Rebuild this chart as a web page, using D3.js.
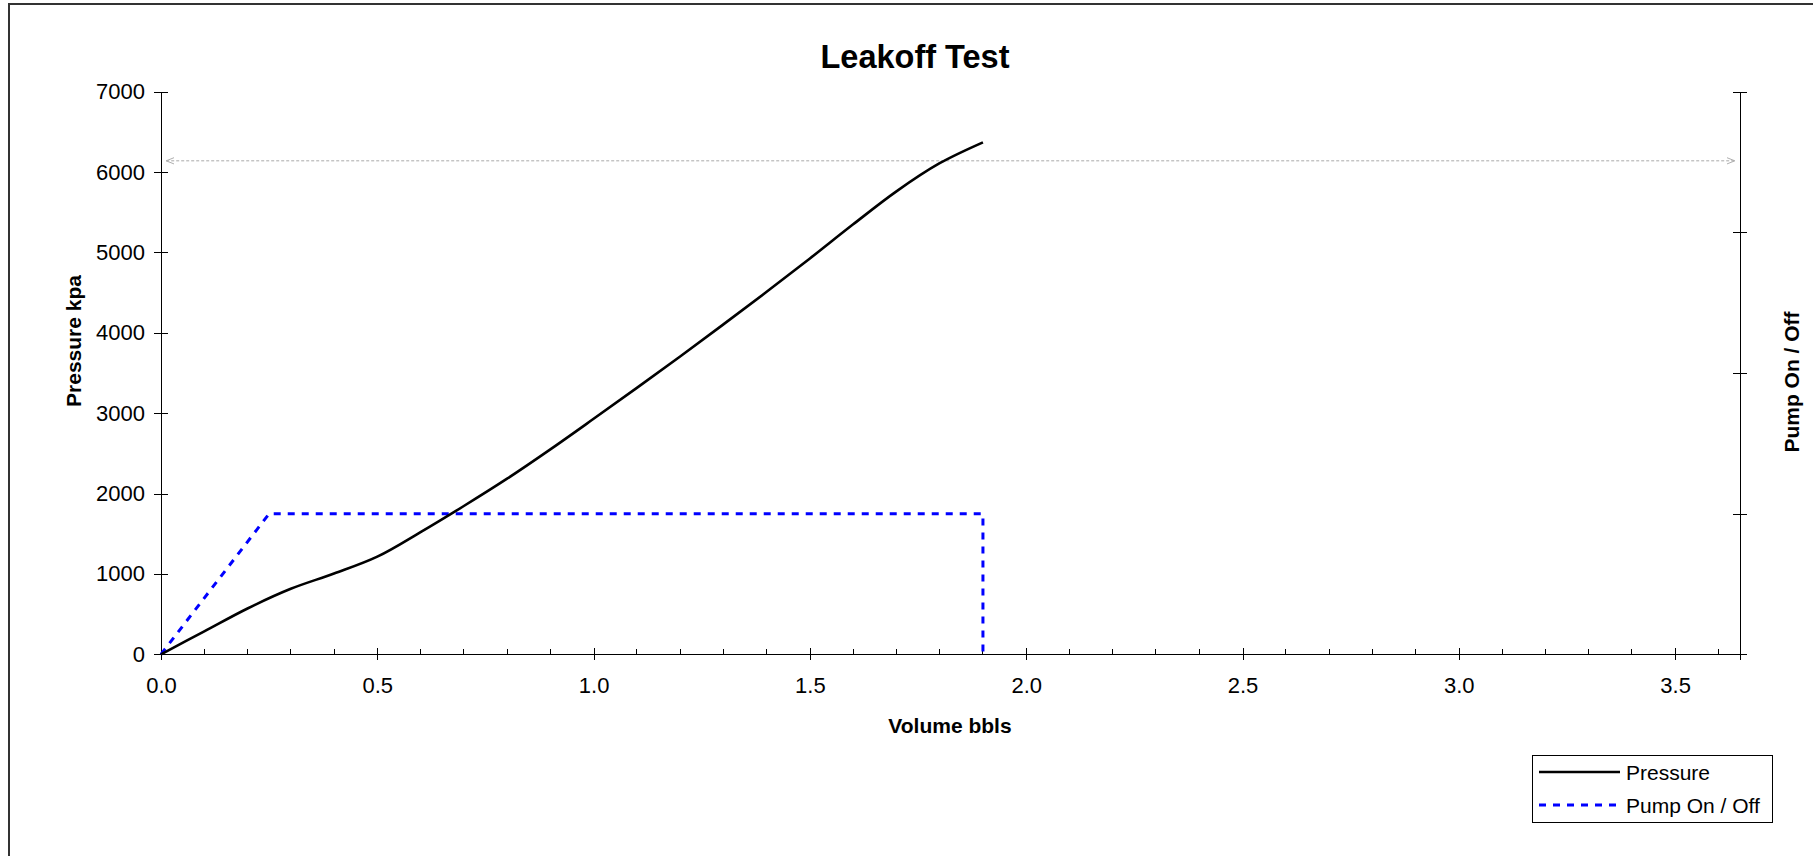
<!DOCTYPE html>
<html>
<head>
<meta charset="utf-8">
<script src="https://cdn.jsdelivr.net/npm/d3@7"></script>
<style>
  html, body { margin: 0; padding: 0; background: #fff; }
  svg { display: block; font-family: "Liberation Sans", Arial, sans-serif; }
</style>
</head>
<body>
<svg id="chart" width="1813" height="856"></svg>
<script>
// Leakoff test: pumped volume vs. surface pressure, with pump status on a secondary axis
const volume   = [0, 0.1, 0.2, 0.3, 0.4, 0.5, 0.6, 0.7, 0.8, 0.9, 1.0, 1.1, 1.2, 1.3, 1.4, 1.5, 1.6, 1.7, 1.8, 1.9];
const pressure = [0, 285, 570, 815, 1005, 1215, 1520, 1845, 2185, 2550, 2930, 3315, 3705, 4105, 4510, 4925, 5350, 5760, 6110, 6370];

const pumpVolume = [0, 0.25, 1.9, 1.9];
const pumpState  = [0, 1, 1, 0];

const leakoffPressure = 6140;

const xTicks      = [0, 0.5, 1.0, 1.5, 2.0, 2.5, 3.0, 3.5];
const xMinorTicks = d3.range(0, 37).map(i => i / 10);
const yTicks      = [0, 1000, 2000, 3000, 4000, 5000, 6000, 7000];
const y2Ticks     = [0, 1, 2, 3, 4];

const seriesNames = ["Pressure", "Pump On / Off"];

const svg = d3.select("#chart");

const x  = d3.scaleLinear().domain([0, 3.65]).range([161, 1740]);
const y  = d3.scaleLinear().domain([0, 7000]).range([654.3, 91.7]);
const y2 = d3.scaleLinear().domain([0, 4]).range([654.3, 91.7]);

// frame around the chart area
svg.append("path")
  .attr("d", "M9,860 L9,4 L1820,4")
  .attr("fill", "none").attr("stroke", "#333").attr("stroke-width", 2);

// title
svg.append("text")
  .attr("x", 915).attr("y", 68)
  .attr("text-anchor", "middle")
  .attr("font-size", 32.5).attr("font-weight", "bold")
  .text("Leakoff Test");

// arrow markers for the leakoff reference line
const defs = svg.append("defs");
defs.append("marker").attr("id", "arrowEnd")
  .attr("viewBox", "0 0 10 10").attr("refX", 10).attr("refY", 5)
  .attr("markerWidth", 8).attr("markerHeight", 8).attr("markerUnits", "userSpaceOnUse")
  .attr("orient", "auto")
  .append("path").attr("d", "M0,1 L10,5 L0,9").attr("fill", "none").attr("stroke", "#aaa").attr("stroke-width", 1.2);
defs.append("marker").attr("id", "arrowStart")
  .attr("viewBox", "0 0 10 10").attr("refX", 0).attr("refY", 5)
  .attr("markerWidth", 8).attr("markerHeight", 8).attr("markerUnits", "userSpaceOnUse")
  .attr("orient", "auto")
  .append("path").attr("d", "M10,1 L0,5 L10,9").attr("fill", "none").attr("stroke", "#aaa").attr("stroke-width", 1.2);

// X axis
const xAxis = svg.append("g")
  .attr("transform", `translate(0,${y(0)})`)
  .call(d3.axisBottom(x).tickValues(xTicks).tickFormat(d3.format(".1f")).tickSizeOuter(0).tickSize(6).tickPadding(17));
xAxis.select(".domain").attr("stroke", "#000").attr("shape-rendering", "crispEdges");
xAxis.selectAll(".tick line").attr("y1", -6).attr("stroke", "#000").attr("shape-rendering", "crispEdges");
xAxis.selectAll(".tick text").attr("font-size", 22).attr("fill", "#000")
  .attr("font-family", "Liberation Sans, Arial, sans-serif");

svg.append("g").selectAll("line")
  .data(xMinorTicks.filter(v => Math.abs(v * 2 - Math.round(v * 2)) > 1e-6))
  .join("line")
  .attr("x1", d => x(d)).attr("x2", d => x(d))
  .attr("y1", y(0) - 5).attr("y2", y(0))
  .attr("stroke", "#000").attr("shape-rendering", "crispEdges");

// left Y axis
const yAxis = svg.append("g")
  .attr("transform", `translate(${x(0)},0)`)
  .call(d3.axisLeft(y).tickValues(yTicks).tickFormat(d3.format("d")).tickSizeOuter(0).tickSize(7).tickPadding(9));
yAxis.select(".domain").attr("stroke", "#000").attr("shape-rendering", "crispEdges");
yAxis.selectAll(".tick line").attr("x1", 7).attr("stroke", "#000").attr("shape-rendering", "crispEdges");
yAxis.selectAll(".tick text").attr("font-size", 22).attr("fill", "#000")
  .attr("font-family", "Liberation Sans, Arial, sans-serif");

// right Y axis (pump status, unlabelled ticks)
const y2Axis = svg.append("g")
  .attr("transform", `translate(${x(3.65)},0)`)
  .call(d3.axisRight(y2).tickValues(y2Ticks).tickFormat("").tickSizeOuter(0).tickSize(7));
y2Axis.select(".domain").attr("stroke", "#000").attr("shape-rendering", "crispEdges");
y2Axis.selectAll(".tick line").attr("x1", -7).attr("stroke", "#000").attr("shape-rendering", "crispEdges");

// axis titles
svg.append("text")
  .attr("x", 950).attr("y", 733)
  .attr("text-anchor", "middle").attr("font-size", 21).attr("font-weight", "bold")
  .text("Volume bbls");
svg.append("text")
  .attr("transform", "translate(81,341) rotate(-90)")
  .attr("text-anchor", "middle").attr("font-size", 21).attr("font-weight", "bold")
  .text("Pressure kpa");
svg.append("text")
  .attr("transform", "translate(1799,382) rotate(-90)")
  .attr("text-anchor", "middle").attr("font-size", 21).attr("font-weight", "bold")
  .text("Pump On / Off");

// leakoff pressure reference line
svg.append("line")
  .attr("x1", x(0.012)).attr("x2", x(3.638))
  .attr("y1", y(leakoffPressure)).attr("y2", y(leakoffPressure))
  .attr("stroke", "#aaa").attr("stroke-width", 1).attr("stroke-dasharray", "3,2")
  .attr("marker-start", "url(#arrowStart)").attr("marker-end", "url(#arrowEnd)");

// pump status series
const pumpLine = d3.line().x(d => x(d[0])).y(d => y2(d[1]));
svg.append("path")
  .datum(d3.zip(pumpVolume, pumpState))
  .attr("d", pumpLine)
  .attr("fill", "none").attr("stroke", "#0000ff").attr("stroke-width", 3)
  .attr("stroke-dasharray", "7,7");

// pressure series
const pressureLine = d3.line().x(d => x(d[0])).y(d => y(d[1])).curve(d3.curveCatmullRom.alpha(0.5));
svg.append("path")
  .datum(d3.zip(volume, pressure))
  .attr("d", pressureLine)
  .attr("fill", "none").attr("stroke", "#000").attr("stroke-width", 2.6);

// legend
const legend = svg.append("g");
legend.append("rect")
  .attr("x", 1532.5).attr("y", 755.5).attr("width", 240).attr("height", 67)
  .attr("fill", "#fff").attr("stroke", "#000").attr("stroke-width", 1);
const legendStyles = [
  { stroke: "#000", dash: null, width: 2.6 },
  { stroke: "#0000ff", dash: "7,7", width: 3 }
];
seriesNames.forEach((name, i) => {
  const cy = 772 + i * 33;
  legend.append("line")
    .attr("x1", 1539).attr("x2", 1620).attr("y1", cy).attr("y2", cy)
    .attr("stroke", legendStyles[i].stroke).attr("stroke-width", legendStyles[i].width)
    .attr("stroke-dasharray", legendStyles[i].dash);
  legend.append("text")
    .attr("x", 1626).attr("y", cy).attr("dy", "0.36em")
    .attr("font-size", 21).text(name);
});
</script>
</body>
</html>
